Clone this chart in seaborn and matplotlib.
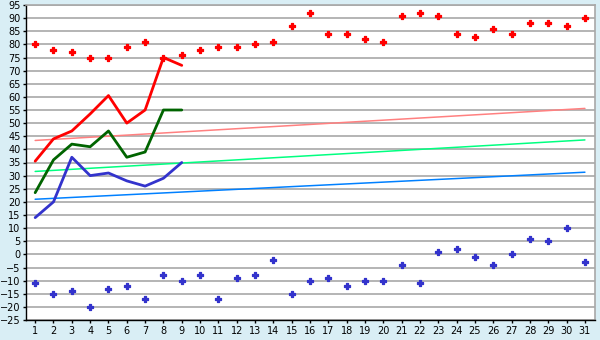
import matplotlib
matplotlib.use("Agg")
import matplotlib.pyplot as plt
import seaborn as sns
import pandas as pd
import numpy as np

days = list(range(1, 32))
red_points = [80, 78, 77, 75, 75, 79, 81, 75, 76, 78, 79, 79, 80, 81, 87, 92, 84, 84, 82, 81,
              91, 92, 91, 84, 83, 86, 84, 88, 88, 87, 90]
blue_points = [-11, -15, -14, -20, -13, -12, -17, -8, -10, -8, -17, -9, -8, -2, -15, -10, -9, -12, -10, -10,
               -4, -11, 1, 2, -1, -4, 0, 6, 5, 10, -3]
line_days = list(range(1, 10))
red_line = [35.5, 44, 47, 53.5, 60.5, 50, 55, 75, 72]
green_line = [23.5, 36, 42, 41, 47, 37, 39, 55, 55]
blue_line = [14, 20, 37, 30, 31, 28, 26, 29, 35]
trend_days = [1, 31]
red_trend = [43.4, 55.6]
green_trend = [31.6, 43.6]
blue_trend = [21.0, 31.3]
y_ticks = list(range(-25, 100, 5))

sns.set_theme(style="white")
plt.rcParams['font.family'] = ['DejaVu Sans']

fig = plt.figure(figsize=(6, 3.4), dpi=100)
fig.patch.set_facecolor('#D9EEF5')
ax = fig.add_axes([26/600, 1-320/340, (595-26)/600, (320-5)/340])
ax.set_facecolor('white')

for yv in y_ticks:
    ax.axhline(yv, color='#A8A8A8', lw=1.2, zorder=0)

def draw_line(xs, ys, color, lw):
    df = pd.DataFrame({'x': xs, 'y': ys})
    sns.lineplot(data=df, x='x', y='y', color=color, lw=lw, ax=ax, zorder=3)

draw_line(trend_days, red_trend, '#FF8080', 1.1)
draw_line(trend_days, green_trend, '#00FF80', 1.1)
draw_line(trend_days, blue_trend, '#0080FF', 1.1)
draw_line(line_days, red_line, '#FF0000', 2.0)
draw_line(line_days, green_line, '#006400', 2.0)
draw_line(line_days, blue_line, '#3333CC', 2.0)

dfr = pd.DataFrame({'x': days, 'y': red_points})
dfb = pd.DataFrame({'x': days, 'y': blue_points})
sns.scatterplot(data=dfr, x='x', y='y', color='#FF0000', marker='P', s=22,
                linewidth=0.9, edgecolor='#FF0000', ax=ax, zorder=4)
sns.scatterplot(data=dfb, x='x', y='y', color='#3333CC', marker='P', s=22,
                linewidth=0.9, edgecolor='#3333CC', ax=ax, zorder=4)

ax.set_xlim(0.5, 31.55)
ax.set_ylim(-25, 95)
ax.set_xticks(days)
ax.set_yticks(y_ticks)
ax.set_xlabel('')
ax.set_ylabel('')
ax.tick_params(axis='both', labelsize=7, colors='black', length=2.5, width=1, direction='out', pad=1.5)
ax.tick_params(left=True, bottom=True)
for s in ['left', 'bottom']:
    ax.spines[s].set_color('black')
    ax.spines[s].set_linewidth(1)
for s in ['right', 'top']:
    ax.spines[s].set_color('#A8A8A8')
    ax.spines[s].set_linewidth(1.2)

fig.savefig('out.png', dpi=100, facecolor=fig.get_facecolor())
